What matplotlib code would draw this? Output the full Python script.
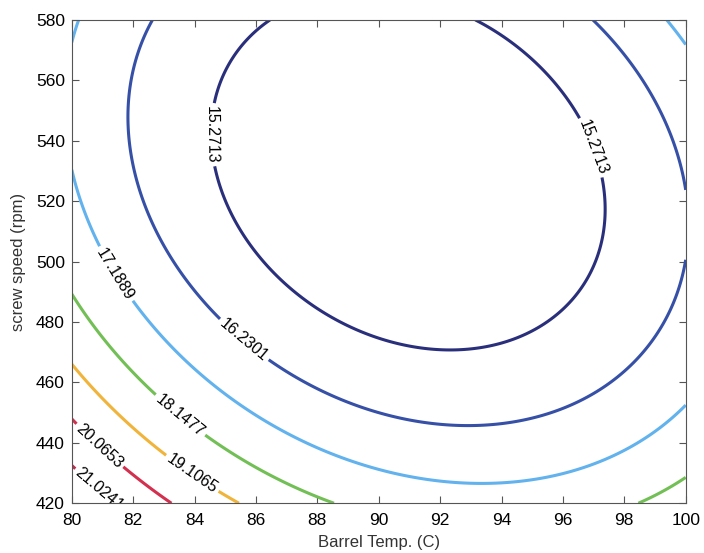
import numpy as np
import matplotlib.pyplot as plt

plt.rcParams['font.family'] = ['Liberation Sans', 'DejaVu Sans']

# axis ranges (Barrel Temp. in C, screw speed in rpm)
temp_range = [80, 100]
speed_range = [420, 580]

# fitted quadratic response surface in coded units
# u = (temp - 90) / 10, v = (speed - 500) / 80
b0 = 14.64
b_lin = [-0.786, -1.424]      # u, v
b_quad = [2.38, 1.79]         # u^2, v^2
b_inter = 0.88                # u*v

levels = [15.2713, 16.2301, 17.1889, 18.1477, 19.1065, 20.0653, 21.0241]
level_colors = ['#2a2f7c', '#3550a6', '#62b2ee', '#72bf55', '#f0b43a', '#d2304e', '#c22a4c']

temp = np.linspace(temp_range[0], temp_range[1], 201)
speed = np.linspace(speed_range[0], speed_range[1], 201)
T, S = np.meshgrid(temp, speed)
u = (T - 90) / 10
v = (S - 500) / 80
Z = (b0 + b_lin[0] * u + b_lin[1] * v + b_quad[0] * u**2 + b_quad[1] * v**2
     + b_inter * u * v)

fig = plt.figure(figsize=(7.04, 5.53), dpi=100)
ax = fig.add_axes([0.102, 0.090, 0.872, 0.874])

cs = ax.contour(T, S, Z, levels=levels, colors=level_colors, linewidths=2.2)

label_spots = [(84.6, 542), (97.0, 538), (85.6, 474), (81.6, 497), (83.6, 450),
               (84.0, 431), (80.9, 439), (81.1, 427)]
ax.clabel(cs, fmt='%.4f', fontsize=11.5, colors='k', inline=True, inline_spacing=3,
          manual=label_spots)

ax.set_xlim(temp_range)
ax.set_ylim(speed_range)
ax.set_xticks(np.arange(80, 101, 2))
ax.set_yticks(np.arange(420, 581, 20))
ax.tick_params(direction='in', top=True, right=True, labelsize=12.5, length=5,
               color='#555555', pad=5)
ax.tick_params(axis='x', pad=7)
for sp in ax.spines.values():
    sp.set_color('#555555')

ax.set_xlabel('Barrel Temp. (C)', fontsize=12, labelpad=5, color='#333333')
ax.set_ylabel('screw speed (rpm)', fontsize=12, labelpad=7, color='#333333')

fig.savefig('out.png', dpi=100)
